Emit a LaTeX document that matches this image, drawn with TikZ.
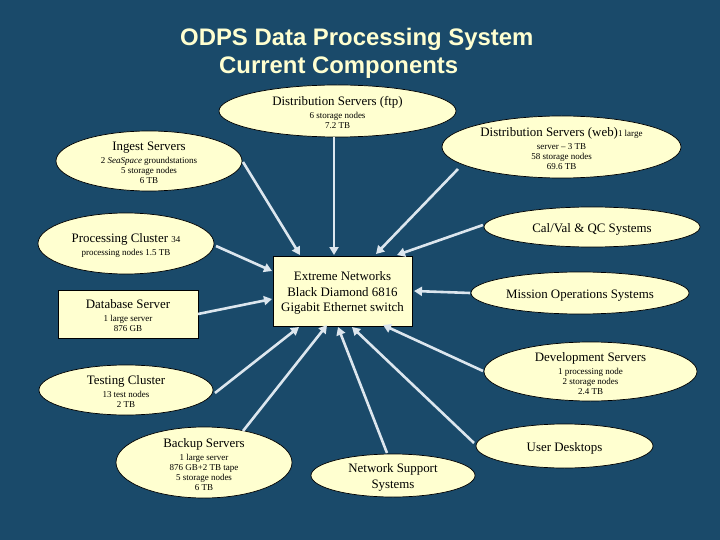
\documentclass[tikz,border=0pt]{standalone}
\usepackage{fontspec}
\setmainfont{Liberation Serif}
\newfontfamily\titlefont{Liberation Sans}
\usetikzlibrary{shapes.geometric,arrows.meta,calc}
\definecolor{bgblue}{HTML}{1A4A6A}
\definecolor{cream}{HTML}{FFFFD0}
\definecolor{linkc}{HTML}{DCE6EE}
\newcommand{\bigtxt}[1]{{\fontsize{12.9}{15.5}\selectfont #1}}
\newcommand{\pushdown}{\rule{0pt}{13pt}}
\tikzset{
  box/.style={draw=black,fill=cream,line width=0.7pt,inner sep=0pt,align=center,text=black,font=\fontsize{9}{10}\selectfont},
  oval/.style={box,ellipse,inner ysep=-12pt},
  rbox/.style={box,rectangle},
  solo/.style={font=\fontsize{12.9}{15.5}\selectfont},
  heading/.style={anchor=west,inner sep=0pt,text=cream,font=\titlefont\bfseries\fontsize{23.9}{28}\selectfont},
  link/.style={draw=linkc,line width=2.6pt,-{Triangle[length=8pt,width=9pt]}}
}
\begin{document}
\begin{tikzpicture}[x=1pt,y=-1pt]
\fill[bgblue] (0,0) rectangle (720,540);
\useasboundingbox (0,0) rectangle (720,540);
\node[heading] (t1) at (180,39) {ODPS Data Processing System};
\node[heading] (t2) at (219,68) {Current Components};
\node[oval,minimum width=237pt,minimum height=52pt] (ftp) at (337.5,111) {\pushdown\bigtxt{Distribution Servers (ftp)}\\[3pt]6 storage nodes\\7.2 TB};
\node[oval,minimum width=239pt,minimum height=62pt] (web) at (561.5,147) {\pushdown\bigtxt{Distribution Servers (web)}1 large\\[3pt]server -- 3 TB\\58 storage nodes\\69.6 TB};
\node[oval,minimum width=186pt,minimum height=60pt] (ingest) at (149,161) {\pushdown\bigtxt{Ingest Servers}\\[3pt]2 \textit{SeaSpace} groundstations\\5 storage nodes\\6 TB};
\node[oval,minimum width=176pt,minimum height=61pt] (proc) at (126,243.5) {\pushdown\bigtxt{Processing Cluster }34\\[3pt]processing nodes 1.5 TB};
\node[oval,solo,minimum width=216pt,minimum height=40pt] (cal) at (592,227) {\pushdown Cal/Val \& QC Systems};
\node[oval,solo,minimum width=218pt,minimum height=42pt] (mission) at (580,293) {\pushdown Mission Operations Systems};
\node[rbox,solo,minimum width=139pt,minimum height=70pt] (sw) at (342.5,291) {\pushdown Extreme Networks\\Black Diamond 6816\\Gigabit Ethernet switch};
\node[rbox,minimum width=140pt,minimum height=48pt] (db) at (128,314) {\pushdown\bigtxt{Database Server}\\[3pt]1 large server\\876 GB};
\node[oval,minimum width=174pt,minimum height=50pt] (test) at (126,390) {\pushdown\bigtxt{Testing Cluster}\\[3pt]13 test nodes\\2 TB};
\node[oval,minimum width=176pt,minimum height=71pt] (backup) at (204,462.5) {\pushdown\bigtxt{Backup Servers}\\[3pt]1 large server\\876 GB+2 TB tape\\5 storage nodes\\6 TB};
\node[oval,solo,minimum width=164pt,minimum height=43pt] (net) at (393,475.5) {\pushdown Network Support\\Systems};
\node[oval,solo,minimum width=177pt,minimum height=44pt] (user) at (564.5,446) {\pushdown User Desktops};
\node[oval,minimum width=213pt,minimum height=59pt] (dev) at (590.5,371.5) {\pushdown\bigtxt{Development Servers}\\[3pt]1 processing node\\2 storage nodes\\2.4 TB};
\draw[link] ($(ingest.center)+(94,1)$) -- ($(sw.center)+(-42.5,-36)$);
\draw[link] ($(ftp.center)+(-3.5,26)$) -- ($(sw.center)+(-8.5,-36)$);
\draw[link] ($(web.center)+(-103.5,22)$) -- ($(sw.center)+(33.5,-37)$);
\draw[link] ($(cal.center)+(-109,-2)$) -- ($(sw.center)+(54.5,-36)$);
\draw[link] ($(mission.center)+(-110,0)$) -- ($(sw.center)+(71.5,0)$);
\draw[link] ($(proc.center)+(90,2.5)$) -- ($(sw.center)+(-70.5,-20)$);
\draw[link] ($(db.center)+(70,0)$) -- ($(sw.center)+(-70.5,8)$);
\draw[link] ($(test.center)+(89,3)$) -- ($(sw.center)+(-43.5,36)$);
\draw[link] ($(backup.center)+(39,-31.5)$) -- ($(sw.center)+(-15.5,34)$);
\draw[link] ($(net.center)+(-6,-22.5)$) -- ($(sw.center)+(-4.5,36)$);
\draw[link] ($(user.center)+(-90.5,-3)$) -- ($(sw.center)+(9.5,36)$);
\draw[link] ($(dev.center)+(-107.5,-0.5)$) -- ($(sw.center)+(40.5,34)$);
\end{tikzpicture}
\end{document}
